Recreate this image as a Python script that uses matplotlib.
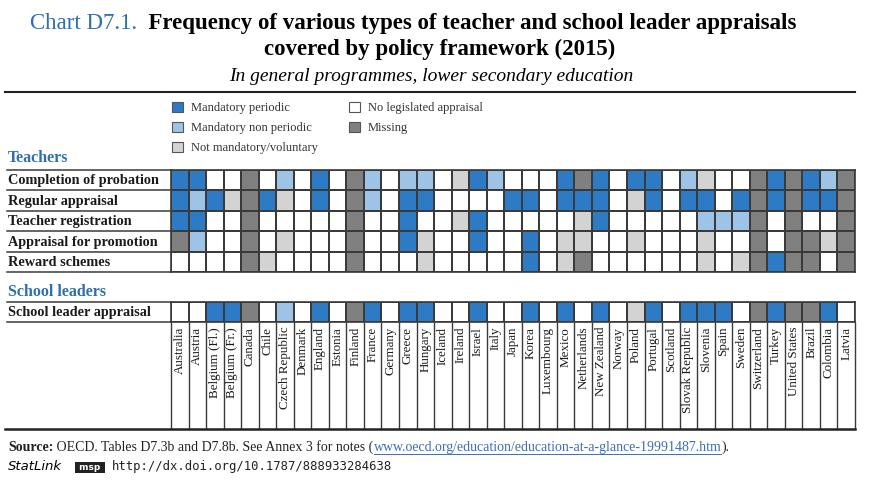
import numpy as np
import matplotlib
matplotlib.use("Agg")
import matplotlib.pyplot as plt
import matplotlib.transforms as mtransforms
from matplotlib.colors import ListedColormap, BoundaryNorm
from matplotlib.patches import Patch
from matplotlib.lines import Line2D

countries = ["Australia", "Austria", "Belgium (Fl.)", "Belgium (Fr.)", "Canada", "Chile",
             "Czech Republic", "Denmark", "England", "Estonia", "Finland", "France",
             "Germany", "Greece", "Hungary", "Iceland", "Ireland", "Israel", "Italy",
             "Japan", "Korea", "Luxembourg", "Mexico", "Netherlands", "New Zealand",
             "Norway", "Poland", "Portugal", "Scotland", "Slovak Republic", "Slovenia",
             "Spain", "Sweden", "Switzerland", "Turkey", "United States", "Brazil",
             "Colombia", "Latvia"]

teacher_rows = ["Completion of probation", "Regular appraisal", "Teacher registration",
                "Appraisal for promotion", "Reward schemes"]

# P = mandatory periodic, N = mandatory non periodic, V = not mandatory/voluntary,
# 0 = no legislated appraisal, M = missing   (one letter per country)
completion = "PP00M0N0P0" "MN0NN0VPN0" "00PMP0PP0N" "V00MPMPNM"
regular = "PNPVMPV0P0" "MN0PP0000P" "P0PPP0VP0P" "P0PMPMPPM"
registration = "PP00M00000" "M00P00VP00" "000VP00000" "NNNM0M00M"
promotion = "MN00M0V000" "M00PV00P00" "P0VV00V000" "V00M0MMVM"
reward = "0000MV0000" "M000V00000" "P0VM000000" "V0VMPMM0M"
leader = "00PPM0N0P0" "MP0PP00P00" "P0P0P0VP0P" "PP0MPMMP0"

categories = ["Mandatory periodic", "Mandatory non periodic", "Not mandatory/voluntary",
              "No legislated appraisal", "Missing"]
codes = "PNV0M"
colors = ["#2d7bc4", "#9dc4e6", "#d3d3d3", "#ffffff", "#808080"]

W, H = 878, 496
SERIF = "Liberation Serif"
BLUE = "#2f6fb0"
EDGE = "#3a3a3a"

fig = plt.figure(figsize=(W / 100, H / 100), dpi=100)
renderer = fig.canvas.get_renderer()


def fx(x):
    return x / W


def fy(y):
    return 1 - y / H


def run(parts, x, y, **common):
    # place text pieces one after the other, x and y in pixels (baseline)
    placed = []
    for s, kw in parts:
        opts = dict(common)
        opts.update(kw)
        t = fig.text(fx(x), fy(y), s, va="baseline", ha="left", **opts)
        ext = t.get_window_extent(renderer)
        placed.append((t, x, ext.width))
        x += ext.width
    return placed


def to_grid(rows):
    return np.array([[codes.index(c) for c in r] for r in rows])


cmap = ListedColormap(colors)
norm = BoundaryNorm(np.arange(-0.5, 5.5), cmap.N)
n = len(countries)
grid_left, grid_right = 171, 855
label_left = 7


def heat(top, bottom, rows, labels):
    ax = fig.add_axes([fx(grid_left), fy(bottom), fx(grid_right - grid_left),
                       (bottom - top) / H])
    data = to_grid(rows)
    ax.pcolormesh(np.arange(n + 1), np.arange(len(rows) + 1), data, cmap=cmap,
                  norm=norm, edgecolors=EDGE, linewidth=1.1)
    ax.set_xlim(0, n)
    ax.set_ylim(len(rows), 0)
    ax.set_xticks([])
    ax.set_yticks([])
    for s in ax.spines.values():
        s.set_color(EDGE)
        s.set_linewidth(1.2)
    blend = mtransforms.blended_transform_factory(fig.transFigure, ax.transData)
    for yb in range(len(rows) + 1):
        ax.plot([fx(label_left), fx(grid_left)], [yb, yb], color=EDGE, lw=1.1,
                transform=blend, clip_on=False)
    for i, lab in enumerate(labels):
        ax.text(fx(8), i + 0.53, lab, transform=blend, va="center", ha="left",
                family=SERIF, fontweight="bold", fontsize=10.3, color="#1a1a1a")
    return ax


heat(170, 272, [completion, regular, registration, promotion, reward], teacher_rows)
heat(302, 322, [leader], ["School leader appraisal"])

# country label area
axl = fig.add_axes([fx(grid_left), fy(429), fx(grid_right - grid_left), (429 - 322) / H])
axl.set_xlim(0, n)
axl.set_ylim(0, 1)
axl.axis("off")
axl.vlines(np.arange(n + 1), 0, 1, color=EDGE, lw=1.0, clip_on=False)
for i, c in enumerate(countries):
    axl.text(i + 0.5, 0.955, c, rotation=90, ha="center", va="top",
             family=SERIF, fontsize=9.4, color="#1a1a1a")
blend_l = mtransforms.blended_transform_factory(fig.transFigure, axl.transAxes)
axl.plot([fx(5), fx(grid_right)], [0, 0], color="#222222", lw=1.8,
         transform=blend_l, clip_on=False)

# section headings
fig.text(fx(8), fy(158), "Teachers", family=SERIF, fontweight="bold", fontsize=11.5,
         color=BLUE, va="center")
fig.text(fx(8), fy(292), "School leaders", family=SERIF, fontweight="bold", fontsize=11.5,
         color=BLUE, va="center")

# legend
handles = [Patch(facecolor=col, edgecolor="#555555", linewidth=0.8) for col in colors]
fig.legend(handles, categories, loc="upper left", bbox_to_anchor=(fx(172), fy(102)),
           ncol=2, frameon=False, prop={"family": SERIF, "size": 9},
           handlelength=0.9, handleheight=0.9, handletextpad=0.6,
           columnspacing=2.5, labelspacing=0.6, borderaxespad=0, borderpad=0,
           labelcolor="#333333")

# titles
run([("Chart D7.1.", {"color": BLUE}),
     ("  Frequency of various types of teacher and school leader appraisals",
      {"fontweight": "bold"})], 30, 29, family=SERIF, fontsize=16.5)
fig.text(fx(440), fy(55), "covered by policy framework (2015)", family=SERIF,
         fontweight="bold", fontsize=16.5, ha="center", va="baseline")
fig.text(fx(431), fy(81), "In general programmes, lower secondary education", family=SERIF,
         style="italic", fontsize=14, ha="center", va="baseline")
fig.add_artist(Line2D([fx(5), fx(grid_right)], [fy(92), fy(92)], color="#222222", lw=1.5))

# source and statlink
pieces = run([("Source:", {"fontweight": "bold"}),
              (" OECD. Tables D7.3b and D7.8b. See Annex 3 for notes (", {}),
              ("www.oecd.org/education/education-at-a-glance-19991487.htm", {"color": "#3b6fb6"}),
              (").", {})], 8, 451, family=SERIF, fontsize=10, color="#222222")
_, lx, lw = pieces[2]
fig.add_artist(Line2D([fx(lx), fx(lx + lw)], [fy(453.5), fy(453.5)], color="#3b6fb6", lw=0.7))

run([("StatLink", {"style": "italic", "family": "DejaVu Sans"})], 8, 470, fontsize=9.5)
fig.text(fx(76), fy(470), " msp ", fontsize=6.5, color="white", va="baseline",
         family="DejaVu Sans", fontweight="bold",
         bbox=dict(boxstyle="square,pad=0.15", facecolor="#222222", edgecolor="none"))
fig.text(fx(112), fy(470), "http://dx.doi.org/10.1787/888933284638", family="DejaVu Sans Mono",
         fontsize=8.8, va="baseline", color="#222222")

fig.savefig("out.png", dpi=100)
